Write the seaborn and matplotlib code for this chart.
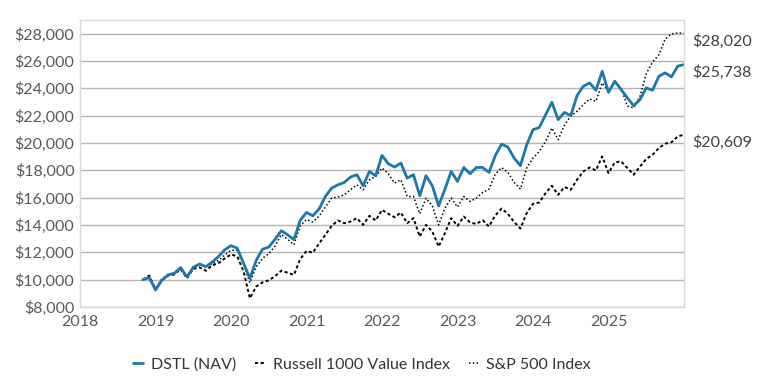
import numpy as np
import pandas as pd
import matplotlib
matplotlib.use("Agg")
import matplotlib.pyplot as plt
import seaborn as sns

# Monthly month-end points, Oct 2018 .. Dec 2025
start_year, start_month, n_months = 2018, 10, 87

dstl = [10000, 10150, 9250, 9950, 10350, 10470, 10880, 10200, 10900, 11150,
        10950, 11280, 11690, 12180, 12490, 12300, 11200, 10100, 11400, 12230,
        12380, 12950, 13580, 13280, 12930, 14350, 14920, 14670, 15170, 16090,
        16700, 16940, 17110, 17510, 17680, 16870, 17920, 17600, 19090, 18480,
        18240, 18530, 17430, 17680, 16140, 17600, 16870, 15400, 16620, 17920,
        17190, 18210, 17750, 18210, 18210, 17850, 19070, 19920, 19700, 18900,
        18340, 19870, 20970, 21140, 22070, 22980, 21710, 22240, 22000, 23470,
        24150, 24400, 23860, 25250, 23710, 24520, 23910, 23300, 22730, 23170,
        24030, 23860, 24880, 25130, 24840, 25620, 25738]

russell = [10000, 10300, 9300, 9950, 10300, 10380, 10780, 10100, 10800, 10900,
           10650, 11050, 11200, 11550, 11850, 11700, 10600, 8640, 9490, 9800,
           9950, 10250, 10660, 10510, 10350, 11500, 12100, 11970, 12650, 13280,
           13940, 14330, 14130, 14250, 14500, 14010, 14670, 14330, 15110, 14820,
           14570, 14910, 14130, 14500, 13150, 14010, 13520, 12420, 13400, 14500,
           13940, 14620, 14180, 14080, 14350, 13890, 14700, 15200, 14820, 14220,
           13740, 14870, 15550, 15650, 16330, 16870, 16210, 16780, 16580, 17310,
           17920, 18210, 17990, 19020, 17800, 18580, 18660, 18170, 17680, 18280,
           18830, 19140, 19630, 19950, 20050, 20480, 20609]

sp500 = [10000, 10200, 9300, 10050, 10350, 10500, 10900, 10250, 10950, 11100,
         10950, 11150, 11400, 11800, 12150, 12150, 11150, 9780, 10950, 11550,
         11900, 12450, 13300, 12950, 12550, 13950, 14400, 14220, 14650, 15310,
         15970, 16040, 16210, 16580, 16940, 16580, 17310, 17550, 18170, 17750,
         17070, 17310, 16090, 16090, 14820, 15970, 15400, 14010, 15230, 15970,
         15310, 16090, 15720, 15970, 16380, 16620, 17720, 18200, 17860, 17110,
         16630, 18170, 18900, 19380, 20120, 21100, 20240, 21300, 21980, 22320,
         22810, 23220, 23050, 24400, 23790, 24520, 24030, 22700, 22570, 23400,
         25080, 25920, 26450, 27600, 27980, 28050, 28020]

series_names = ["DSTL (NAV)", "Russell 1000 Value Index", "S&P 500 Index"]
end_labels = ["$25,738", "$20,609", "$28,020"]
x_ticks = [2018, 2019, 2020, 2021, 2022, 2023, 2024, 2025]
y_ticks = [8000, 10000, 12000, 14000, 16000, 18000, 20000, 22000, 24000, 26000, 28000]

t = [start_year + (start_month + i) / 12 for i in range(n_months)]
df = pd.DataFrame({"t": t, series_names[0]: dstl,
                   series_names[1]: russell, series_names[2]: sp500})

sns.set_theme(style="white")
plt.rcParams["font.family"] = ["Lato", "DejaVu Sans"]

fig = plt.figure(figsize=(7.64, 3.82), dpi=100)
ax = fig.add_axes([80 / 764, 1 - 307 / 382, (684 - 80) / 764, (307 - 20) / 382])

styles = {
    series_names[0]: dict(color="#1f77a7", linewidth=2.0, linestyle="-"),
    series_names[1]: dict(color="black", linewidth=1.4, linestyle=(0, (1.6, 1.3))),
    series_names[2]: dict(color="black", linewidth=1.1, linestyle=(0, (1.0, 1.5))),
}
# draw benchmarks first so DSTL sits on top
for name in [series_names[2], series_names[1], series_names[0]]:
    sns.lineplot(data=df, x="t", y=name, ax=ax, label=name, **styles[name])

ax.set_xlim(2018, 2026)
ax.set_ylim(8000, 29000)
ax.set_xticks(x_ticks)
ax.set_xticklabels([str(v) for v in x_ticks])
ax.set_yticks(y_ticks)
ax.set_yticklabels([f"${v:,.0f}" for v in y_ticks])
ax.set_xlabel("")
ax.set_ylabel("")
ax.yaxis.grid(True, color="#b3b3b3", linewidth=1.0)
ax.xaxis.grid(False)
for sp in ax.spines.values():
    sp.set_color("#d9d9d9")
    sp.set_linewidth(1.0)
ax.tick_params(axis="both", length=0, labelsize=11.5, labelcolor="#595959", pad=4)
ax.tick_params(axis="x", pad=6)

# end labels
for vals, lab in [(sp500, end_labels[2]), (dstl, end_labels[0]), (russell, end_labels[1])]:
    ax.annotate(lab, xy=(t[-1], vals[-1]), xytext=(8, -8), textcoords="offset pixels",
                ha="left", va="center", fontsize=11.5, color="#404040",
                annotation_clip=False)

handles, labels = ax.get_legend_handles_labels()
order = [labels.index(n) for n in series_names]
leg = ax.legend([handles[i] for i in order], [labels[i] for i in order],
                loc="upper center", bbox_to_anchor=(0.467, -0.125), ncol=3,
                frameon=False, fontsize=11.5, handlelength=0.6, handletextpad=0.5,
                columnspacing=1.2, labelcolor="#333333")

fig.savefig("out.png", dpi=100)
